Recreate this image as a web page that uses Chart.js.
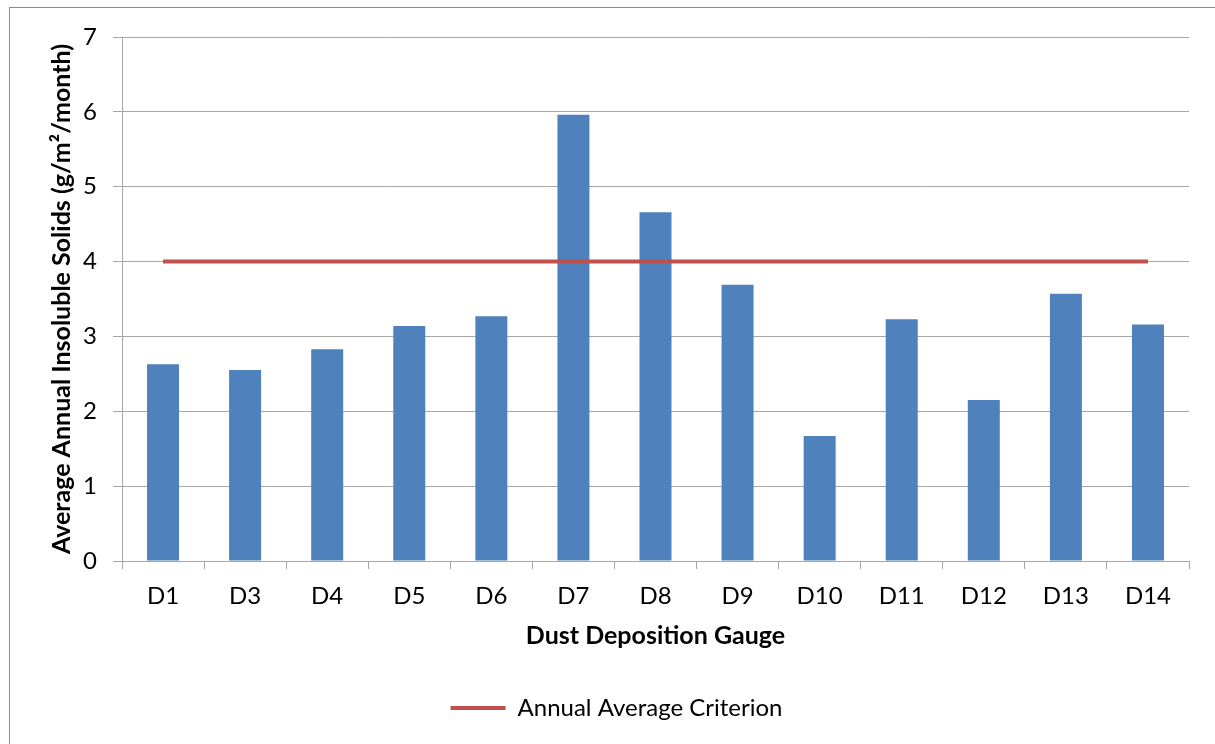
<!DOCTYPE html>
<html>
<head>
<meta charset="utf-8">
<script src="https://cdn.jsdelivr.net/npm/chart.js@4"></script>
<style>
  html, body { margin: 0; padding: 0; background: #fff; overflow: hidden; }
  #wrap { position: relative; width: 1215px; height: 744px; }
  #frame { position: absolute; left: 9px; top: 7px; width: 1300px; height: 900px; border: 1px solid #8c8c8c; box-sizing: border-box; }
  canvas { position: absolute; left: 0; top: 0; }
</style>
</head>
<body>
<div id="wrap">
  <div id="frame"></div>
  <canvas id="c" width="1215" height="744"></canvas>
</div>
<script>
// Dust deposition gauges and their average annual insoluble solids (g/m²/month)
const gauges = ['D1', 'D3', 'D4', 'D5', 'D6', 'D7', 'D8', 'D9', 'D10', 'D11', 'D12', 'D13', 'D14'];
const insolubleSolids = [2.63, 2.55, 2.83, 3.14, 3.27, 5.96, 4.66, 3.69, 1.67, 3.23, 2.15, 3.57, 3.16];
const criterion = [4, 4, 4, 4, 4, 4, 4, 4, 4, 4, 4, 4, 4];
const yTicks = [0, 1, 2, 3, 4, 5, 6, 7];

const FONT = 'Lato, Carlito, "Open Sans", sans-serif';
const GRID = '#a6a6a6';

new Chart(document.getElementById('c'), {
  type: 'bar',
  data: {
    labels: gauges,
    datasets: [
      {
        type: 'line',
        label: 'Annual Average Criterion',
        data: criterion,
        borderColor: '#C0504D',
        backgroundColor: '#C0504D',
        borderWidth: 4,
        pointRadius: 0,
        pointHoverRadius: 0,
        order: 0
      },
      {
        type: 'bar',
        label: 'Average Annual Insoluble Solids',
        data: insolubleSolids,
        backgroundColor: '#4F81BD',
        borderWidth: 0,
        categoryPercentage: 1.0,
        barPercentage: 0.39,
        order: 1
      }
    ]
  },
  options: {
    responsive: false,
    animation: false,
    layout: { padding: { left: 44, right: 26, top: 37, bottom: 14 } },
    plugins: {
      tooltip: { enabled: false },
      legend: {
        position: 'bottom',
        labels: {
          filter: (item) => item.datasetIndex === 0,
          usePointStyle: true,
          pointStyle: 'line',
          pointStyleWidth: 55,
          color: '#000',
          padding: 10,
          font: { family: FONT, size: 24 }
        }
      }
    },
    scales: {
      x: {
        grid: { drawOnChartArea: false, color: GRID, tickLength: 8, offset: true },
        border: { color: GRID },
        ticks: { color: '#000', padding: 13, font: { family: FONT, size: 24 } },
        title: {
          display: true,
          text: 'Dust Deposition Gauge',
          color: '#000',
          padding: { top: 0, bottom: 35 },
          font: { family: FONT, size: 25, weight: 'bold' }
        },
        afterFit: (s) => { s.height = 125; }
      },
      y: {
        min: 0,
        max: 7,
        afterBuildTicks: (s) => { s.ticks = yTicks.map(v => ({ value: v })); },
        grid: { color: GRID, tickLength: 9 },
        border: { color: GRID },
        ticks: { color: '#000', padding: 16, font: { family: FONT, size: 24 } },
        title: {
          display: true,
          text: 'Average Annual Insoluble Solids (g/m²/month)',
          color: '#000',
          padding: { top: 3, bottom: 0 },
          font: { family: FONT, size: 25, weight: 'bold' }
        },
        afterFit: (s) => { s.width = 78; }
      }
    }
  }
});
</script>
</body>
</html>
